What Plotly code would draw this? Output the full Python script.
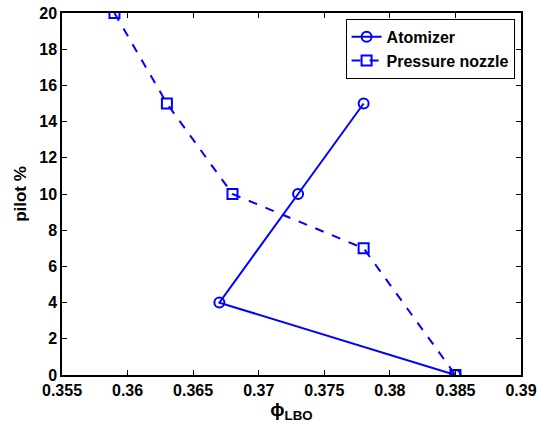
import plotly.graph_objects as go

atom_x = [0.385, 0.367, 0.373, 0.378]
atom_y = [0, 4, 10, 15]
press_x = [0.359, 0.363, 0.368, 0.378, 0.385]
press_y = [20, 15, 10, 7, 0]
x_ticks = [0.355, 0.36, 0.365, 0.37, 0.375, 0.38, 0.385, 0.39]
x_labels = ["0.355", "0.36", "0.365", "0.37", "0.375", "0.38", "0.385", "0.39"]
y_ticks = [0, 2, 4, 6, 8, 10, 12, 14, 16, 18, 20]

blue = "#0000FF"
fig = go.Figure()
fig.add_trace(go.Scatter(x=atom_x, y=atom_y, name="<b>Atomizer</b>", mode="lines+markers",
                         line=dict(color=blue, width=2),
                         marker=dict(symbol="circle-open", size=10, color=blue, line=dict(width=2))))
fig.add_trace(go.Scatter(x=press_x, y=press_y, name="<b>Pressure nozzle</b>", mode="lines+markers",
                         line=dict(color=blue, width=2, dash="dash"),
                         marker=dict(symbol="square-open", size=10, color=blue, line=dict(width=2))))

fam = "Liberation Sans, Arial, sans-serif"
fig.update_layout(
    width=541, height=424,
    margin=dict(l=62, r=20, t=13, b=49, autoexpand=False),
    paper_bgcolor="white", plot_bgcolor="white",
    font=dict(family=fam, size=16, color="black"),
    showlegend=True,
    legend=dict(x=0.986, y=0.984, xanchor="right", yanchor="top",
                bordercolor="black", borderwidth=1, bgcolor="white",
                font=dict(family=fam, size=16, color="black"),
                tracegroupgap=0, itemwidth=30),
    xaxis=dict(range=[0.355, 0.39], tickvals=x_ticks,
               ticktext=["<b>%s</b>" % t for t in x_labels],
               ticks="inside", ticklen=5, tickcolor="black", mirror="ticks",
               showline=True, linecolor="black", linewidth=1.5, showgrid=False, zeroline=False,
               automargin=False,
               tickfont=dict(size=16),
               title=dict(text="<b>ϕ<sub>LBO</sub></b>", font=dict(size=19), standoff=2)),
    yaxis=dict(range=[0, 20], tickvals=y_ticks,
               ticktext=["<b>%d</b>" % v for v in y_ticks],
               ticks="inside", ticklen=5, tickcolor="black", mirror="ticks",
               showline=True, linecolor="black", linewidth=1.5, showgrid=False, zeroline=False,
               automargin=False,
               tickfont=dict(size=16),
               title=dict(text="<b>pilot %</b>", font=dict(size=17), standoff=8)),
)
fig.write_html("out.html")
